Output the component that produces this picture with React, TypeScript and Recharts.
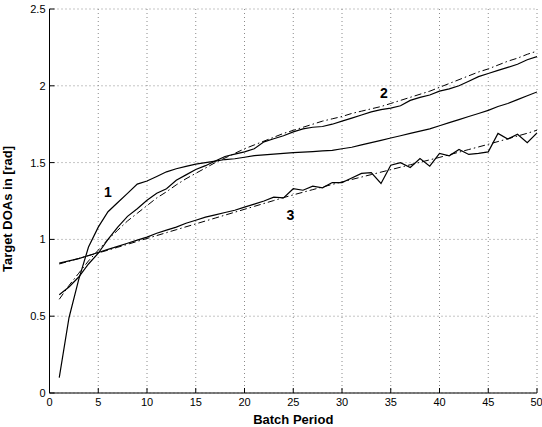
import React from 'react';
import { LineChart, Line, XAxis, YAxis, CartesianGrid, ReferenceDot } from 'recharts';

const batches = [1,2,3,4,5,6,7,8,9,10,11,12,13,14,15,16,17,18,19,20,21,22,23,24,25,26,27,28,29,30,31,32,33,34,35,36,37,38,39,40,41,42,43,44,45,46,47,48,49,50];

const target1 = [0.10,0.49,0.74,0.95,1.08,1.18,1.24,1.30,1.36,1.38,1.41,1.44,1.46,1.475,1.49,1.50,1.51,1.52,1.525,1.535,1.545,1.55,1.555,1.56,1.565,1.568,1.572,1.576,1.58,1.59,1.60,1.615,1.63,1.645,1.66,1.675,1.69,1.705,1.72,1.74,1.76,1.78,1.80,1.82,1.84,1.865,1.885,1.91,1.935,1.96];

const target2 = [0.64,0.69,0.755,0.84,0.91,1.0,1.08,1.15,1.20,1.255,1.30,1.33,1.385,1.42,1.455,1.48,1.51,1.54,1.555,1.57,1.59,1.635,1.655,1.675,1.70,1.72,1.73,1.735,1.75,1.77,1.79,1.81,1.83,1.845,1.855,1.87,1.905,1.925,1.94,1.965,1.98,2.0,2.03,2.06,2.08,2.10,2.12,2.14,2.17,2.19];

const fit2 = [0.61,0.70,0.78,0.86,0.93,1.00,1.06,1.12,1.17,1.22,1.27,1.31,1.355,1.395,1.43,1.465,1.50,1.53,1.56,1.59,1.615,1.64,1.665,1.69,1.71,1.73,1.75,1.77,1.785,1.80,1.82,1.835,1.85,1.865,1.885,1.905,1.925,1.945,1.965,1.99,2.015,2.04,2.065,2.09,2.11,2.135,2.16,2.18,2.205,2.226];

const target3 = [0.845,0.86,0.875,0.895,0.915,0.935,0.955,0.975,0.995,1.015,1.04,1.06,1.08,1.105,1.125,1.145,1.16,1.175,1.19,1.21,1.23,1.25,1.275,1.27,1.33,1.32,1.347,1.336,1.37,1.37,1.40,1.43,1.435,1.364,1.483,1.50,1.468,1.527,1.477,1.56,1.544,1.586,1.553,1.56,1.57,1.69,1.653,1.685,1.63,1.694];

const fit3 = [0.84,0.858,0.876,0.894,0.912,0.93,0.949,0.968,0.987,1.006,1.025,1.044,1.063,1.082,1.101,1.12,1.139,1.158,1.177,1.196,1.215,1.234,1.253,1.272,1.29,1.307,1.324,1.341,1.358,1.374,1.39,1.406,1.422,1.438,1.454,1.47,1.486,1.502,1.518,1.534,1.551,1.568,1.585,1.602,1.619,1.637,1.655,1.673,1.691,1.711];

const xTicks = [0,5,10,15,20,25,30,35,40,45,50];
const yTicks = [0,0.5,1,1.5,2,2.5];
const curveLabels = [
  { name: '1', x: 6.0, y: 1.31 },
  { name: '2', x: 34.3, y: 1.95 },
  { name: '3', x: 24.7, y: 1.16 },
];

const data = batches.map((b, i) => ({
  batch: b,
  t1: target1[i],
  t2: target2[i],
  f2: fit2[i],
  t3: target3[i],
  f3: fit3[i],
}));

const font = 'Liberation Sans, Arial, Helvetica, sans-serif';
const tickStyle = { fontSize: 11, fill: '#000', fontFamily: font };
const dashFit = '7 3 1.5 3';

export default function App() {
  return (
    <div style={{ position: 'absolute', left: 0, top: 0, background: '#fff' }}>
      <LineChart width={542} height={427} data={data} margin={{ top: 9, right: 5, bottom: 0, left: 0 }}>
        <CartesianGrid stroke="#8a8a8a" strokeDasharray="1 3" strokeWidth={1} xAxisId="b" yAxisId="l" />
        <XAxis
          xAxisId="b"
          dataKey="batch"
          type="number"
          domain={[0, 50]}
          ticks={xTicks}
          allowDataOverflow
          tick={tickStyle}
          tickSize={-5}
          tickMargin={10}
          stroke="#000"
          height={34}
          label={{ value: 'Batch Period', position: 'insideBottom', offset: 3, style: { fontSize: 13, fontWeight: 'bold', fill: '#000', fontFamily: font } }}
        />
        <XAxis
          xAxisId="t"
          orientation="top"
          dataKey="batch"
          type="number"
          domain={[0, 50]}
          ticks={xTicks}
          tickFormatter={() => ''}
          tickSize={-5}
          stroke="#000"
          height={0}
        />
        <YAxis
          yAxisId="l"
          type="number"
          domain={[0, 2.5]}
          ticks={yTicks}
          tick={tickStyle}
          tickSize={-5}
          tickMargin={9}
          stroke="#000"
          width={49.5}
          label={{ value: 'Target DOAs in [rad]', angle: -90, position: 'insideLeft', offset: 7, dy: 8, style: { fontSize: 13, fontWeight: 'bold', fill: '#000', fontFamily: font, textAnchor: 'middle' } }}
        />
        <YAxis
          yAxisId="r"
          orientation="right"
          type="number"
          domain={[0, 2.5]}
          ticks={yTicks}
          tickFormatter={() => ''}
          tickSize={-5}
          stroke="#000"
          width={0}
        />
        <Line xAxisId="b" yAxisId="l" type="linear" dataKey="t1" stroke="#000" strokeWidth={1.2} dot={false} isAnimationActive={false} />
        <Line xAxisId="b" yAxisId="l" type="linear" dataKey="f2" stroke="#000" strokeWidth={1} strokeDasharray={dashFit} dot={false} isAnimationActive={false} />
        <Line xAxisId="b" yAxisId="l" type="linear" dataKey="t2" stroke="#000" strokeWidth={1.2} dot={false} isAnimationActive={false} />
        <Line xAxisId="b" yAxisId="l" type="linear" dataKey="f3" stroke="#000" strokeWidth={1} strokeDasharray={dashFit} dot={false} isAnimationActive={false} />
        <Line xAxisId="b" yAxisId="l" type="linear" dataKey="t3" stroke="#000" strokeWidth={1.2} dot={false} isAnimationActive={false} />
        {curveLabels.map((c) => (
          <ReferenceDot
            key={c.name}
            xAxisId="b"
            yAxisId="l"
            x={c.x}
            y={c.y}
            r={0}
            fill="none"
            stroke="none"
            label={{ value: c.name, position: 'center', style: { fontSize: 14, fontWeight: 'bold', fill: '#000', fontFamily: font } }}
          />
        ))}
      </LineChart>
    </div>
  );
}
